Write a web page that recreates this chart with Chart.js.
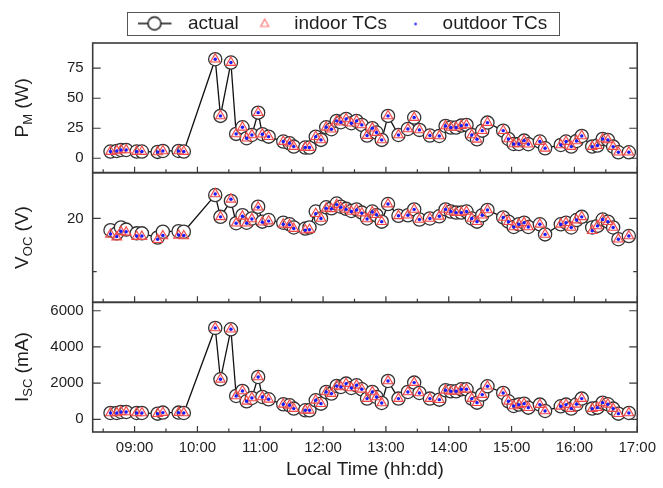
<!DOCTYPE html>
<html>
<head>
<meta charset="utf-8">
<script src="https://cdn.jsdelivr.net/npm/chart.js@4.4.1/dist/chart.umd.min.js"></script>
<style>
  html, body { margin: 0; padding: 0; background: #fff; }
  #wrap { width: 663px; height: 488px; position: relative; }
</style>
</head>
<body>
<div id="wrap"><canvas id="chart"></canvas></div>
<script>
// sample times, shared by the three panels
const times = [
  "08:37","08:43","08:47","08:52","09:02","09:07","09:22","09:27","09:42","09:47",
  "10:17","10:22","10:32","10:37","10:43","10:47","10:52","10:58","11:02","11:08",
  "11:22","11:28","11:32","11:43","11:47","11:53","11:58","12:03","12:08","12:13",
  "12:17","12:22","12:27","12:32","12:37","12:42","12:47","12:51","12:56","13:02",
  "13:12","13:21","13:27","13:32","13:42","13:51","13:57","14:02","14:07","14:12",
  "14:17","14:22","14:27","14:32","14:37","14:52","14:57","15:02","15:07","15:12",
  "15:16","15:27","15:32","15:47","15:52","15:57","16:02","16:07","16:17","16:22",
  "16:27","16:32","16:37","16:42","16:52"
];

// P_M (W)
const pActual = [
  5.6,6.1,6.9,6.9,5.6,5.6,5.3,6.1,6.1,5.6,
  82.5,35.3,79.7,20.3,25.8,16.7,19.4,38,20,18,
  13.9,12.5,9.7,8.9,8.9,18,15.3,25.8,24.2,31.1,
  30,32.8,29.2,31.1,27.8,18.9,25,21.4,15.3,35.3,
  19.4,24.4,33.9,23.6,18.9,18.6,26.9,25.6,25.6,27.2,
  27.8,19.4,15.8,23,29.7,23,16.1,11.9,11.9,14.7,
  11.7,13.9,8.3,11.1,13.9,9.7,14.4,18.6,9.7,10.6,
  16.1,15.3,9.7,5,5
];
const pIndoor = pActual.slice();
const pOutdoor = pActual.slice();

// V_OC (V)
const vActual = [
  17.8,17.2,18.3,17.9,17.2,17.2,16.4,17.5,17.6,17.5,
  24.4,20.3,23.3,19.1,20.6,19.2,20,22.2,19.4,19.7,
  19.2,18.9,18.3,18.1,18.3,21.3,20,22.1,21.9,22.8,
  22.2,21.8,21.4,21.7,21.1,20,21.3,20.6,19.4,22.7,
  20.5,20.6,21.7,19.8,20,20.4,21.7,21.3,21.1,21.1,
  21.3,20,19.4,20.6,21.6,20.2,19.4,18.4,18.9,19.2,
  18.4,18.9,17,18.9,19.2,18.3,19.7,20.3,18.3,18.6,
  19.8,19.4,18.3,16.1,16.7
];
const vIndoor = [
  17.0,16.5,17.5,17.4,16.6,16.6,16.0,16.7,16.8,16.7,
  24.6,20.3,23.6,19.1,20.4,19.1,19.9,22.1,19.3,19.5,
  18.9,18.8,18.1,17.8,17.9,20.9,20,21.9,21.8,22.6,
  22.1,21.7,21.3,21.6,21.0,19.9,21.2,20.7,19.4,22.7,
  20.5,20.6,21.7,19.8,20,20.4,21.7,21.3,21.1,21.1,
  21.3,20,19.4,20.6,21.6,20.2,19.4,18.4,18.9,19.2,
  18.4,18.9,17,18.9,19.2,18.3,19.7,20.3,17.7,18.6,
  19.8,19.4,18.3,16.1,16.7
];
const vOutdoor = [
  17.1,16.6,17.6,17.5,16.7,16.7,16.1,16.8,16.9,16.8,
  24.6,20.3,23.6,19.1,20.4,19.1,19.9,22.1,19.3,19.5,
  18.9,18.8,18.1,17.8,17.9,20.9,20,21.9,21.8,22.6,
  22.1,21.7,21.3,21.6,21.0,19.9,21.2,20.7,19.4,22.7,
  20.5,20.6,21.7,19.8,20,20.4,21.7,21.3,21.1,21.1,
  21.3,20,19.4,20.6,21.6,20.2,19.4,18.4,18.9,19.2,
  18.4,18.9,17,18.9,19.2,18.3,19.7,20.3,17.7,18.6,
  19.8,19.4,18.3,16.1,16.7
];

// I_SC (mA)
const iActual = [
  350,350,405,405,350,350,313,370,370,350,
  5050,2210,4976,1290,1567,995,1180,2340,1235,1106,
  830,774,590,498,498,1050,866,1511,1419,1843,
  1788,1972,1732,1880,1659,1143,1511,1235,903,2119,
  1143,1511,2027,1456,1143,1087,1603,1548,1548,1659,
  1659,1143,921,1364,1825,1456,995,737,811,866,
  645,811,461,719,811,590,829,1143,590,645,
  921,829,590,313,350
];
const iIndoor = iActual.slice();
const iOutdoor = iActual.slice();

// axis ticks
const xHours = [9, 10, 11, 12, 13, 14, 15, 16, 17];
const xTickLabels = ["09:00","10:00","11:00","12:00","13:00","14:00","15:00","16:00","17:00"];
const xHalfHours = [8.5, 9.5, 10.5, 11.5, 12.5, 13.5, 14.5, 15.5, 16.5];
const pTicks = [0, 25, 50, 75];
const pMinor = [12.5, 37.5, 62.5, 87.5];
const vTicks = [20];
const vMinor = [10];
const iTicks = [0, 2000, 4000, 6000];
const iMinor = [1000, 3000, 5000];

const FONT = "'Liberation Sans', Arial, Helvetica, sans-serif";
const INK = "#1e1e1e";

const toHours = t => { const [h, m] = t.split(":").map(Number); return h + m / 60; };
const xs = times.map(toHours);
const pts = arr => arr.map((y, i) => ({ x: xs[i], y }));

function actualSet(data, axis) {
  return {
    label: "actual", data: pts(data), yAxisID: axis, order: 3,
    showLine: true, borderColor: "#111", borderWidth: 1.3, tension: 0,
    pointRadius: 6.6, pointBorderWidth: 1.3, pointBorderColor: "#333",
    pointBackgroundColor: "#fff"
  };
}
function indoorSet(data, axis) {
  return {
    label: "indoor TCs", data: pts(data), yAxisID: axis, order: 2, showLine: false,
    pointStyle: "triangle", pointRadius: 5.6, pointBorderWidth: 1.1,
    pointBorderColor: "#f04848", pointBackgroundColor: "rgba(255,170,170,0.25)"
  };
}
function outdoorSet(data, axis) {
  return {
    label: "outdoor TCs", data: pts(data), yAxisID: axis, order: 1, showLine: false,
    pointRadius: 1.7, pointBorderWidth: 0, pointBackgroundColor: "#1a1aff"
  };
}

// little canvases used as legend symbols
function symbol(draw) {
  const c = document.createElement("canvas");
  c.width = 40; c.height = 18;
  draw(c.getContext("2d"));
  return c;
}
const symActual = symbol(g => {
  g.strokeStyle = "#111"; g.lineWidth = 1.4;
  g.beginPath(); g.moveTo(0, 9); g.lineTo(9, 9); g.moveTo(23, 9); g.lineTo(33, 9); g.stroke();
  g.beginPath(); g.arc(16, 9, 6.5, 0, Math.PI * 2); g.stroke();
});
const symIndoor = symbol(g => {
  g.strokeStyle = "#f77"; g.lineWidth = 1.2;
  g.beginPath(); g.moveTo(20, 4.5); g.lineTo(24, 12); g.lineTo(16, 12); g.closePath(); g.stroke();
});
const symOutdoor = symbol(g => {
  g.fillStyle = "#1a1aff";
  g.beginPath(); g.arc(22.5, 9.5, 1.3, 0, Math.PI * 2); g.fill();
});

const legendFrame = {
  id: "legendFrame",
  afterDraw(chart) {
    const hb = chart.legend.legendHitBoxes;
    if (!hb || !hb.length) return;
    const ctx = chart.ctx;
    const first = hb[0], last = hb[hb.length - 1];
    const x0 = first.left - 11, x1 = last.left + last.width + 12;
    const y0 = first.top - 2, y1 = first.top + first.height + 2;
    ctx.save();
    ctx.strokeStyle = "#555"; ctx.lineWidth = 1;
    ctx.strokeRect(Math.round(x0) + 0.5, Math.round(y0) + 0.5, Math.round(x1 - x0), Math.round(y1 - y0));
    ctx.restore();
  }
};

// boxes round the panels, inward ticks on every side
const panelFrames = {
  id: "panelFrames",
  afterDatasetsDraw(chart) {
    const { ctx, chartArea: { left, right } } = chart;
    const x = chart.scales.x;
    ["yP", "yV", "yI"].forEach(id => {
      const s = chart.scales[id];
      ctx.save();
      ctx.strokeStyle = "#3a3a3a";
      ctx.lineWidth = 1.2;
      ctx.beginPath();
      s.ticks.forEach(t => {
        const y = s.getPixelForValue(t.value);
        const len = t.label ? 8 : 4;
        ctx.moveTo(left, y); ctx.lineTo(left + len, y);
        ctx.moveTo(right, y); ctx.lineTo(right - len, y);
      });
      x.ticks.forEach(t => {
        const px = x.getPixelForValue(t.value);
        const len = t.label ? 6 : 3.5;
        ctx.moveTo(px, s.bottom); ctx.lineTo(px, s.bottom - len);
      });
      ctx.stroke();
      ctx.lineWidth = 1.6;
      ctx.strokeRect(left, s.top, right - left, s.bottom - s.top);
      ctx.restore();
    });
  }
};

const yTitles = [
  { axis: "yP", main: "P", sub: "M", unit: " (W)" },
  { axis: "yV", main: "V", sub: "OC", unit: " (V)" },
  { axis: "yI", main: "I", sub: "SC", unit: " (mA)" }
];
const axisTitles = {
  id: "axisTitles",
  afterDraw(chart) {
    const ctx = chart.ctx;
    const big = "19px " + FONT, small = "13px " + FONT;
    yTitles.forEach(t => {
      const s = chart.scales[t.axis];
      ctx.save();
      ctx.translate(23, (s.top + s.bottom) / 2);
      ctx.rotate(-Math.PI / 2);
      ctx.fillStyle = INK;
      ctx.textBaseline = "middle";
      ctx.textAlign = "left";
      ctx.font = big;
      const w1 = ctx.measureText(t.main).width, w3 = ctx.measureText(t.unit).width;
      ctx.font = small;
      const w2 = ctx.measureText(t.sub).width;
      let cx = -(w1 + w2 + w3) / 2;
      ctx.font = big; ctx.fillText(t.main, cx, 0); cx += w1;
      ctx.font = small; ctx.fillText(t.sub, cx, 5); cx += w2;
      ctx.font = big; ctx.fillText(t.unit, cx, 0);
      ctx.restore();
    });
  }
};

function yScale(min, max, major, minor) {
  return {
    type: "linear", position: "left", stack: "panels", stackWeight: 1,
    min, max,
    grid: { display: false, drawTicks: false },
    border: { display: false },
    afterFit: s => { s.width = 49.1; },
    afterBuildTicks: s => {
      s.ticks = major.concat(minor).sort((a, b) => a - b).map(v => ({ value: v }));
    },
    ticks: {
      padding: 9, color: INK, font: { family: FONT, size: 15 },
      callback: v => major.includes(v) ? String(v) : ""
    }
  };
}

new Chart(document.getElementById("chart"), {
  type: "line",
  data: {
    datasets: [
      actualSet(pActual, "yP"), indoorSet(pIndoor, "yP"), outdoorSet(pOutdoor, "yP"),
      actualSet(vActual, "yV"), indoorSet(vIndoor, "yV"), outdoorSet(vOutdoor, "yV"),
      actualSet(iActual, "yI"), indoorSet(iIndoor, "yI"), outdoorSet(iOutdoor, "yI")
    ]
  },
  options: {
    responsive: true,
    maintainAspectRatio: false,
    animation: false,
    events: [],
    layout: { padding: { top: 8, left: 43.6, right: 21, bottom: 0 } },
    plugins: {
      tooltip: { enabled: false },
      legend: {
        display: true,
        position: "top",
        labels: {
          usePointStyle: true, pointStyleWidth: 40, boxHeight: 19, padding: 6,
          color: INK, font: { family: FONT, size: 19 },
          generateLabels: () => [
            { text: "actual", pointStyle: symActual, datasetIndex: 0, hidden: false, fontColor: INK, lineWidth: 0 },
            { text: "indoor TCs", pointStyle: symIndoor, datasetIndex: 1, hidden: false, fontColor: INK, lineWidth: 0 },
            { text: "outdoor TCs", pointStyle: symOutdoor, datasetIndex: 2, hidden: false, fontColor: INK, lineWidth: 0 }
          ]
        }
      }
    },
    scales: {
      x: {
        type: "linear", min: 8 + 20 / 60, max: 17,
        grid: { display: false, drawTicks: false },
        border: { display: false },
        afterFit: s => { s.height = 56; },
        afterBuildTicks: s => {
          s.ticks = xHalfHours.concat(xHours).sort((a, b) => a - b).map(v => ({ value: v }));
        },
        ticks: {
          autoSkip: false, maxRotation: 0, padding: 7, color: INK,
          font: { family: FONT, size: 15 },
          callback: v => { const k = xHours.indexOf(v); return k >= 0 ? xTickLabels[k] : ""; }
        },
        title: {
          display: true, text: "Local Time (hh:dd)", color: INK,
          font: { family: FONT, size: 19 }, padding: { top: 0, bottom: 7 }
        }
      },
      // left boxes in a stack are laid out last-first, so the bottom panel comes first here
      yI: yScale(-702, 6464, iTicks, iMinor),
      yV: yScale(4.24, 28.6, vTicks, vMinor),
      yP: yScale(-12, 96, pTicks, pMinor)
    }
  },
  plugins: [legendFrame, panelFrames, axisTitles]
});
</script>
</body>
</html>
